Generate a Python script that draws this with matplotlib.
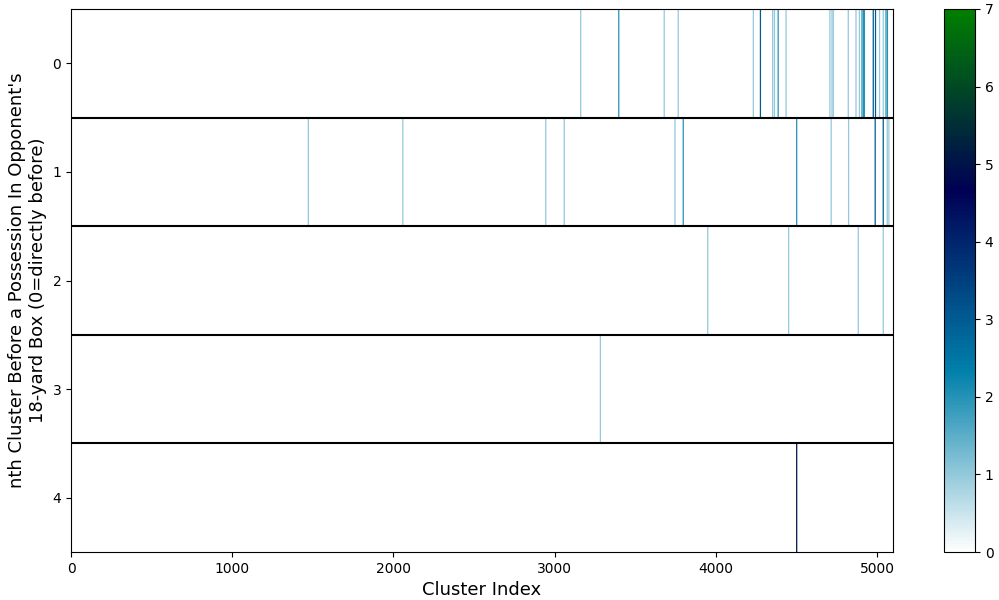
import matplotlib
matplotlib.use("Agg")
import matplotlib.pyplot as plt
import numpy as np

n_clusters = 5100
n_before = 5

# (cluster index, count) for each row
row0_idx = [3162, 3398, 3680, 3767, 4233, 4277, 4353, 4364, 4387, 4436,
            4708, 4721, 4729, 4822, 4870, 4891, 4907, 4916, 4922, 4977,
            4991, 5016, 5039, 5056, 5065]
row0_val = [1, 2, 1, 1, 1, 3, 1, 1, 2, 1,
            1, 1, 1, 1, 1, 1, 2, 2, 2, 3,
            3, 1, 1, 2, 2]
row1_idx = [1472, 2058, 2945, 3060, 3747, 3798, 4502, 4716, 4824, 4989,
            5039, 5064, 5074]
row1_val = [1, 1, 1, 1, 1, 2, 2, 1, 1, 3, 3, 1, 1]
row2_idx = [3950, 4452, 4884, 5039]
row2_val = [1, 1, 1, 1]
row3_idx = [3284]
row3_val = [1]
row4_idx = [4502]
row4_val = [5]

rows = [(row0_idx, row0_val), (row1_idx, row1_val), (row2_idx, row2_val),
        (row3_idx, row3_val), (row4_idx, row4_val)]

cmap = plt.get_cmap('ocean_r')
norm = matplotlib.colors.Normalize(vmin=0, vmax=7)

fig = plt.figure(figsize=(9.99, 6), dpi=100)
ax = fig.add_axes([71/999, 48/600, 822/999, 543/600])
cax = fig.add_axes([944/999, 48/600, 31/999, 543/600])

# each non-zero cell is one column wide, far thinner than a pixel,
# so draw it as a thin line in its colormap colour
for r, (idx, val) in enumerate(rows):
    ax.vlines(idx, r - 0.5, r + 0.5, colors=cmap(norm(np.array(val))),
              linewidth=0.9, snap=False)

for y in np.arange(0.5, n_before - 1, 1):
    ax.axhline(y, color='black', linewidth=1.5)
ax.set_xlim(-0.5, n_clusters - 0.5)
ax.set_ylim(n_before - 0.5, -0.5)
ax.set_yticks(range(n_before))
ax.set_xlabel('Cluster Index', fontsize=13)
ax.set_ylabel("nth Cluster Before a Possession In Opponent's\n18-yard Box (0=directly before)", fontsize=13)
fig.colorbar(matplotlib.cm.ScalarMappable(norm=norm, cmap=cmap), cax=cax)

plt.savefig('out.png')
